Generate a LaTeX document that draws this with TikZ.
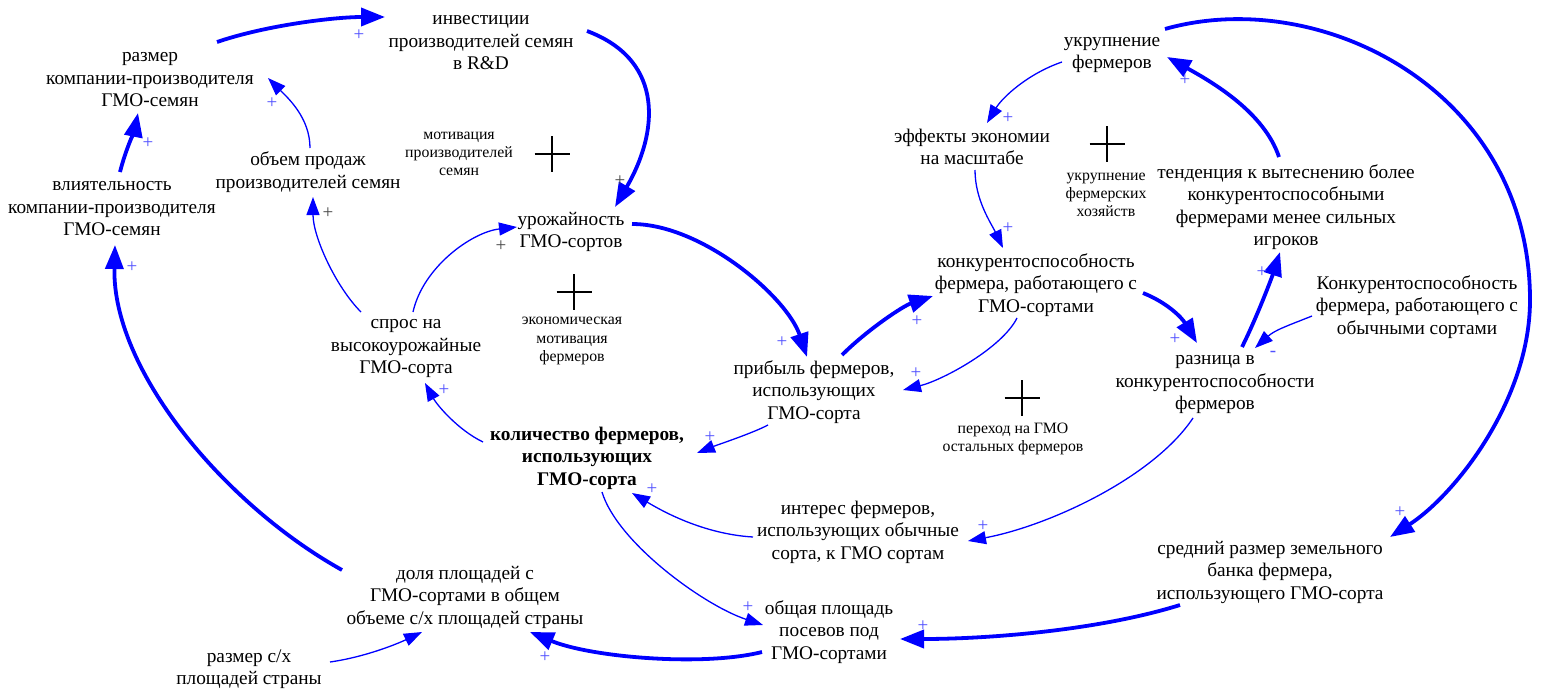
\documentclass[tikz,border=0pt]{standalone}
\usepackage{fontspec}
\setmainfont{Liberation Serif}
\usetikzlibrary{arrows.meta}
\definecolor{arrblue}{RGB}{0,0,255}
\definecolor{polblue}{RGB}{80,80,255}
\definecolor{polgray}{RGB}{70,70,70}
\tikzset{
  var/.style={align=center, font=\fontsize{19.3}{22.5}\selectfont, inner sep=0pt},
  boldvar/.style={var, font=\fontsize{19.3}{22.5}\selectfont\bfseries},
  loopname/.style={align=center, font=\fontsize{15.8}{18.3}\selectfont, inner sep=0pt},
  loopmark/.style={minimum width=35pt, minimum height=36pt, inner sep=0pt, outer sep=0pt},
  loopcross/.style={draw=black, line width=2.6pt},
  thinlink/.style={draw=arrblue, line width=1.3pt, -{Triangle[length=18pt,width=13pt]}},
  thicklink/.style={draw=arrblue, line width=3.8pt, -{Triangle[length=24pt,width=18pt]}},
  pol/.style={text=polblue, font=\fontsize{19}{19}\selectfont, inner sep=0pt},
  polg/.style={pol, text=polgray},
}
\begin{document}
\begin{tikzpicture}[x=1pt,y=-1pt]
\useasboundingbox (0,0) rectangle (1541,693);

% variables
\node[var] (razm) at (150,80) {размер\\компании-производителя\\ГМО-семян};
\node[var] (inv) at (481,43) {инвестиции\\производителей семян\\в R\&D};
\node[var] (obem) at (308,172) {объем продаж\\производителей семян};
\node[var] (vliy) at (112,209) {влиятельность\\компании-производителя\\ГМО-семян};
\node[var] (urozh) at (571,232) {урожайность\\ГМО-сортов};
\node[var] (spros) at (406,349) {спрос на\\высокоурожайные\\ГМО-сорта};
\node[boldvar] (kol) at (587,458) {количество фермеров,\\использующих\\ГМО-сорта};
\node[var] (prib) at (814,392) {прибыль фермеров,\\использующих\\ГМО-сорта};
\node[var] (konkG) at (1036,285) {конкурентоспособность\\фермера, работающего с\\ГМО-сортами};
\node[var] (ukr) at (1112,55) {укрупнение\\фермеров};
\node[var] (eff) at (972,147) {эффекты экономии\\на масштабе};
\node[var] (tend) at (1286,207) {тенденция к вытеснению более\\конкурентоспособными\\фермерами менее сильных\\игроков};
\node[var] (konkO) at (1417,307) {Конкурентоспособность\\фермера, работающего с\\обычными сортами};
\node[var] (razn) at (1215,385) {разница в\\конкурентоспособности\\фермеров};
\node[var] (inter) at (858,532) {интерес фермеров,\\использующих обычные\\сорта, к ГМО сортам};
\node[var] (sred) at (1270,572) {средний размер земельного\\банка фермера,\\использующего ГМО-сорта};
\node[var] (dolya) at (465,597) {доля площадей с\\ГМО-сортами в общем\\объеме с/х площадей страны};
\node[var] (razmsx) at (249,669) {размер с/х\\площадей страны};
\node[var] (obsh) at (829,632) {общая площадь\\посевов под\\ГМО-сортами};

% loop names and markers
\node[loopname] (mot1) at (459,154) {мотивация\\производителей\\семян};
\node[loopmark] (mk1) at (552,154) {};
\node[loopname] (econ) at (572,341) {экономическая\\мотивация\\фермеров};
\node[loopmark] (mk2) at (574,292) {};
\node[loopname] (perehod) at (1013,439) {переход на ГМО\\остальных фермеров};
\node[loopmark] (mk3) at (1022,398) {};
\node[loopname] (ukrfh) at (1106,195) {укрупнение\\фермерских\\хозяйств};
\node[loopmark] (mk4) at (1107,144) {};
\foreach \m in {mk1,mk2,mk3,mk4}
  \draw[loopcross] (\m.west) -- (\m.east) (\m.north) -- (\m.south);

% links
\draw[thicklink] ([shift={(67,-38)}]razm.center) .. controls +(50,-17) and +(-50,0) .. ([shift={(-96,-26)}]inv.center);
\draw[thicklink] ([shift={(106,-12)}]inv.center) .. controls +(80,30) and +(42,-72) .. ([shift={(44,-25)}]urozh.center);
\draw[thicklink] ([shift={(61,-8)}]urozh.center) .. controls +(70,0) and +(-20,-60) .. ([shift={(-7,-35)}]prib.center);
\draw[thicklink] ([shift={(28,-37)}]prib.center) .. controls +(25,-25) and +(-30,10) .. ([shift={(-103,11)}]konkG.center);
\draw[thinlink] ([shift={(-19,33)}]konkG.center) .. controls +(-15,30) and +(40,-10) .. ([shift={(89,-2)}]prib.center);
\draw[thinlink] ([shift={(-46,33)}]prib.center) .. controls +(-15,8) and +(20,-8) .. ([shift={(110,-5)}]kol.center);
\draw[thinlink] ([shift={(-104,-16)}]kol.center) .. controls +(-25,-12) and +(12,22) .. ([shift={(19,34)}]spros.center);
\draw[thinlink] ([shift={(7,-37)}]spros.center) .. controls +(10,-45) and +(-45,5) .. ([shift={(-54,-5)}]urozh.center);
\draw[thinlink] ([shift={(-45,-37)}]spros.center) .. controls +(-25,-25) and +(0,40) .. ([shift={(5,25)}]obem.center);
\draw[thinlink] ([shift={(2,-24)}]obem.center) .. controls +(0,-30) and +(20,20) .. ([shift={(118,-2)}]razm.center);
\draw[thicklink] ([shift={(8,-37)}]vliy.center) .. controls +(5,-20) and +(-3,15) .. ([shift={(-12,33)}]razm.center);
\draw[thicklink] ([shift={(-123,-27)}]dolya.center) .. controls +(-117,-65) and +(-3,125) .. ([shift={(3,36)}]vliy.center);
\draw[thinlink] ([shift={(81,-7)}]razmsx.center) .. controls +(35,-5) and +(-25,12) .. ([shift={(-43,35)}]dolya.center);
\draw[thicklink] ([shift={(-67,20)}]obsh.center) .. controls +(-60,15) and +(60,25) .. ([shift={(65,35)}]dolya.center);
\draw[thinlink] ([shift={(15,34)}]kol.center) .. controls +(15,50) and +(-60,-20) .. ([shift={(-66,-7)}]obsh.center);
\draw[thinlink] ([shift={(-105,5)}]inter.center) .. controls +(-50,-3) and +(30,18) .. ([shift={(45,35)}]kol.center);
\draw[thinlink] ([shift={(-22,33)}]razn.center) .. controls +(-40,60) and +(80,-15) .. ([shift={(110,9)}]inter.center);
\draw[thicklink] ([shift={(-90,33)}]sred.center) .. controls +(-80,25) and +(90,0) .. ([shift={(71,7)}]obsh.center);
\draw[thicklink] ([shift={(53,-26)}]ukr.center) .. controls +(155,-44) and +(0,-210) .. ([shift={(260,-272)}]sred.center) .. controls +(0,100) and +(65,-42) .. ([shift={(120,-35)}]sred.center);
\draw[thinlink] ([shift={(-50,7)}]ukr.center) .. controls +(-35,12) and +(15,-25) .. ([shift={(15,-24)}]eff.center);
\draw[thinlink] ([shift={(3,23)}]eff.center) .. controls +(0,30) and +(-12,-25) .. ([shift={(-33,-37)}]konkG.center);
\draw[thicklink] ([shift={(107,8)}]konkG.center) .. controls +(25,10) and +(-15,-25) .. ([shift={(-18,-42)}]razn.center);
\draw[thinlink] ([shift={(-105,9)}]konkO.center) .. controls +(-25,10) and +(20,-18) .. ([shift={(40,-37)}]razn.center);
\draw[thicklink] ([shift={(27,-38)}]razn.center) .. controls +(15,-30) and +(-8,25) .. ([shift={(-6,45)}]tend.center);
\draw[thicklink] ([shift={(-7,-50)}]tend.center) .. controls +(-15,-45) and +(45,25) .. ([shift={(55,2)}]ukr.center);

% polarities
\node[pol] (p1) at (359,35) {+};
\node[polg] (p2) at (620,181) {+};
\node[pol] (p3) at (782,342) {+};
\node[pol] (p4) at (917,321) {+};
\node[pol] (p5) at (916,373) {+};
\node[pol] (p6) at (710,437) {+};
\node[pol] (p7) at (444,390) {+};
\node[polg] (p8) at (501,246) {+};
\node[polg] (p9) at (328,213) {+};
\node[pol] (p10) at (272,103) {+};
\node[pol] (p11) at (148,143) {+};
\node[pol] (p12) at (132,267) {+};
\node[pol] (p14) at (545,657) {+};
\node[pol] (p15) at (748,607) {+};
\node[pol] (p16) at (652,489) {+};
\node[pol] (p17) at (983,526) {+};
\node[pol] (p18) at (923,626) {+};
\node[pol] (p19) at (1400,512) {+};
\node[pol] (p20) at (1008,118) {+};
\node[pol] (p21) at (1008,228) {+};
\node[pol] (p22) at (1175,339) {+};
\node[pol] (p23) at (1273,354) {-};
\node[pol] (p24) at (1262,272) {+};
\node[pol] (p25) at (1185,80) {+};
\end{tikzpicture}
\end{document}
